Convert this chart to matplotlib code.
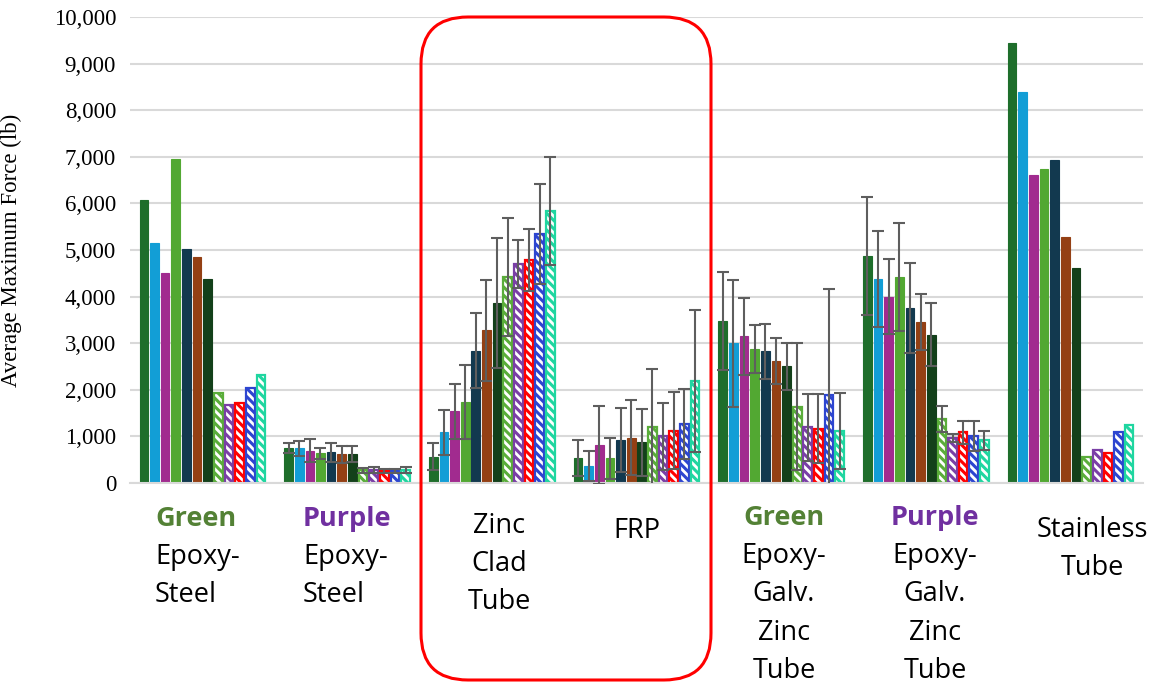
import matplotlib
matplotlib.use("Agg")
import matplotlib.pyplot as plt
from matplotlib.patches import FancyBboxPatch
from matplotlib.ticker import FuncFormatter, MultipleLocator
import numpy as np

GROUPS = [
    "Green Epoxy-Steel",
    "Purple Epoxy-Steel",
    "Zinc Clad Tube",
    "FRP",
    "Green Epoxy-Galv. Zinc Tube",
    "Purple Epoxy-Galv. Zinc Tube",
    "Stainless Tube",
]

# average maximum force (lb) per series, one value per group
S1 = [6070, 745, 565, 530, 3476, 4870, 9450]
S2 = [5150, 745, 1088, 365, 3000, 4376, 8384]
S3 = [4500, 693, 1538, 815, 3148, 4002, 6609]
S4 = [6960, 637, 1738, 530, 2876, 4426, 6738]
S5 = [5020, 658, 2840, 923, 2826, 3760, 6940]
S6 = [4840, 615, 3277, 973, 2618, 3459, 5279]
S7 = [4370, 630, 3863, 873, 2504, 3182, 4614]
H1 = [1925, 272, 4414, 1195, 1637, 1373, 558]
H2 = [1670, 272, 4706, 1002, 1191, 966, 717]
H3 = [1710, 258, 4778, 1122, 1163, 1088, 652]
H4 = [2045, 258, 5336, 1273, 1888, 1009, 1088]
H5 = [2320, 280, 5843, 2189, 1116, 916, 1253]

# standard deviations (0 = no error bar)
S1_ERR = [0, 110, 295, 390, 1059, 1273, 0]
S2_ERR = [0, 160, 487, 318, 1359, 1030, 0]
S3_ERR = [0, 245, 587, 837, 830, 800, 0]
S4_ERR = [0, 120, 797, 436, 522, 1160, 0]
S5_ERR = [0, 200, 812, 693, 594, 966, 0]
S6_ERR = [0, 180, 1088, 808, 494, 601, 0]
S7_ERR = [0, 170, 1402, 723, 500, 680, 0]
H1_ERR = [0, 57, 1270, 1252, 1366, 286, 0]
H2_ERR = [0, 64, 515, 715, 715, 86, 0]
H3_ERR = [0, 50, 662, 830, 744, 250, 0]
H4_ERR = [0, 50, 1076, 751, 2275, 315, 0]
H5_ERR = [0, 55, 1163, 1524, 815, 200, 0]

SERIES = [S1, S2, S3, S4, S5, S6, S7, H1, H2, H3, H4, H5]
ERRORS = [S1_ERR, S2_ERR, S3_ERR, S4_ERR, S5_ERR, S6_ERR, S7_ERR,
          H1_ERR, H2_ERR, H3_ERR, H4_ERR, H5_ERR]
COLORS = ["#1e6e2b", "#129ed6", "#a12b8f", "#52a832", "#12394f", "#944014",
          "#13401a", "#5aad3a", "#7a3fa6", "#ff0000", "#2d45d0", "#1fd6a0"]
HATCHED = [False] * 7 + [True] * 5

GREEN_TXT = "#538135"
PURPLE_TXT = "#7030a0"

# category label lines: (text, colour, weight)
LABEL_LINES = [
    [("Green", GREEN_TXT, "bold"), ("Epoxy-", "black", "normal"), ("Steel", "black", "normal")],
    [("Purple", PURPLE_TXT, "bold"), ("Epoxy-", "black", "normal"), ("Steel", "black", "normal")],
    [("Zinc", "black", "normal"), ("Clad", "black", "normal"), ("Tube", "black", "normal")],
    [("FRP", "black", "normal")],
    [("Green", GREEN_TXT, "bold"), ("Epoxy-", "black", "normal"), ("Galv.", "black", "normal"),
     ("Zinc", "black", "normal"), ("Tube", "black", "normal")],
    [("Purple", PURPLE_TXT, "bold"), ("Epoxy-", "black", "normal"), ("Galv.", "black", "normal"),
     ("Zinc", "black", "normal"), ("Tube", "black", "normal")],
    [("Stainless", "black", "normal"), ("Tube", "black", "normal")],
]
# (x px, first baseline px, alignment)
LABEL_POS = [(155, 526, "left"), (303, 526, "left"), (499, 533, "center"),
             (637, 538, "center"), (784, 525, "center"), (935, 525, "center"),
             (1092, 537, "center")]
LINE_STEP = 38.2

W, H = 1155, 686
plt.rcParams["hatch.linewidth"] = 2.2

fig = plt.figure(figsize=(W / 100, H / 100), dpi=100)
ax = fig.add_axes([130 / W, 1 - 483 / H, 1013 / W, 466 / H])

n = len(SERIES)
step = 0.0735
width = 0.06
x = np.arange(len(GROUPS))

for i, (vals, errs, col, hat) in enumerate(zip(SERIES, ERRORS, COLORS, HATCHED)):
    xs = x + (i - (n - 1) / 2) * step
    if hat:
        ax.bar(xs, vals, width, color="white", edgecolor=col, hatch="\\\\\\\\",
               linewidth=1.6, zorder=2)
    else:
        ax.bar(xs, vals, width, color=col, edgecolor=col, linewidth=0.8, zorder=2)
    errs = np.array(errs, dtype=float)
    m = errs > 0
    ax.errorbar(xs[m], np.array(vals)[m], yerr=errs[m], fmt="none",
                ecolor="#5e5e5e", elinewidth=1.5, capsize=4.5, capthick=1.5, zorder=3)

ax.set_xlim(-0.5, len(GROUPS) - 0.5)
ax.set_ylim(0, 10000)
ax.yaxis.set_major_locator(MultipleLocator(1000))
ax.yaxis.set_major_formatter(FuncFormatter(lambda v, p: f"{int(v):,}"))
ax.grid(axis="y", color="#d9d9d9", linewidth=1.5, zorder=0)
ax.set_axisbelow(True)
for s in ["top", "right", "left"]:
    ax.spines[s].set_visible(False)
ax.spines["bottom"].set_color("#d9d9d9")
ax.spines["bottom"].set_linewidth(1.5)
ax.set_xticks([])
ax.tick_params(axis="y", length=0, pad=10, labelsize=16.5)
for lab in ax.get_yticklabels():
    lab.set_fontfamily("Liberation Serif")
ax.set_ylabel("Average Maximum Force (lb)", fontfamily="Liberation Serif", fontsize=16.5)
ax.yaxis.set_label_coords(-108 / 1013, 0.5)

for lines, (px, py, ha) in zip(LABEL_LINES, LABEL_POS):
    for k, (txt, col, wt) in enumerate(lines):
        fig.text(px / W, 1 - (py + k * LINE_STEP) / H, txt, color=col, fontweight=wt,
                 fontfamily="Open Sans", fontsize=19.5, ha=ha, va="baseline")

# red rounded frame around the two tube groups
box = FancyBboxPatch((4.21, 0.06), 2.90, 6.63, boxstyle="round,pad=0,rounding_size=0.47",
                     transform=fig.dpi_scale_trans, fill=False, edgecolor="#ff0000",
                     linewidth=2.2, clip_on=False)
fig.add_artist(box)

fig.savefig("out.png", dpi=100, facecolor="white")
